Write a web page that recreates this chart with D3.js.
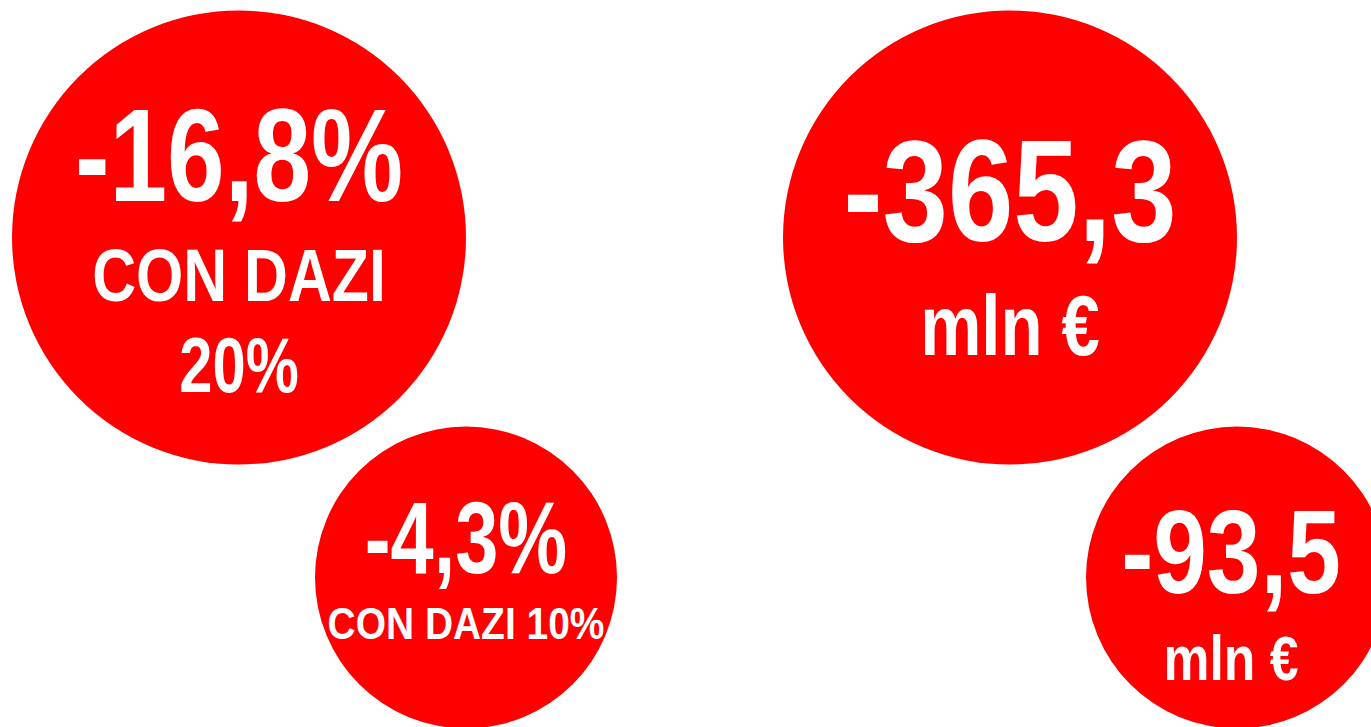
<!DOCTYPE html>
<html>
<head>
<meta charset="utf-8">
<script src="https://cdn.jsdelivr.net/npm/d3@7"></script>
<style>
  html, body { margin: 0; padding: 0; background: #fff; }
  svg { display: block; }
</style>
</head>
<body>
<div id="chart"></div>
<script>
// values shown in the bubbles
var values = ["-16,8%", "-4,3%", "-365,3", "-93,5"];
var subLabels = [["CON DAZI", "20%"], ["CON DAZI 10%"], ["mln €"], ["mln €"]];

// layout of each bubble (column, row, size) and its text lines
// fs = font size, y = baseline, sx = horizontal squeeze (narrow bold look)
var layout = [
    { col: 0, row: 0, size: "big",   main: { fs: 131, y: 201, sx: 0.79 }, subs: [{ fs: 75, y: 301, sx: 0.81 }, { fs: 77, y: 392, sx: 0.775 }], dx: 0 },
    { col: 1, row: 1, size: "small", main: { fs: 102, y: 573, sx: 0.76 }, subs: [{ fs: 45, y: 639, sx: 0.865 }], dx: 0 },
    { col: 2, row: 0, size: "big",   main: { fs: 145, y: 241, sx: 0.81 }, subs: [{ fs: 86, y: 355, sx: 0.80 }], dx: 0 },
    { col: 3, row: 1, size: "small", main: { fs: 119, y: 593, sx: 0.81 }, subs: [{ fs: 63, y: 680, sx: 0.82 }], dx: -6 }
];

var width = 1371, height = 727;

var svg = d3.select("#chart")
    .append("svg")
    .attr("width", width)
    .attr("height", height);

// x centres of the four columns, y centres of the two rows
var x = d3.scaleOrdinal().domain([0, 1, 2, 3]).range([239, 466, 1010, 1237]);
var y = d3.scaleOrdinal().domain([0, 1]).range([237.5, 577.5]);
var r = d3.scaleOrdinal().domain(["big", "small"]).range([227, 151]);

var red = "#ff0000";
var font = "'Liberation Sans', Arial, sans-serif";

var g = svg.selectAll("g.bubble")
    .data(values)
    .enter()
    .append("g")
    .attr("class", "bubble");

g.append("circle")
    .attr("cx", function (d, i) { return x(layout[i].col) })
    .attr("cy", function (d, i) { return y(layout[i].row) })
    .attr("r", function (d, i) { return r(layout[i].size) })
    .style("fill", red);

g.append("text")
    .attr("transform", function (d, i) {
        var m = layout[i].main;
        return "translate(" + (x(layout[i].col) + layout[i].dx) + "," + m.y + ") scale(" + m.sx + ",1)";
    })
    .style("text-anchor", "middle")
    .style("font-family", font)
    .style("font-weight", "bold")
    .style("font-size", function (d, i) { return layout[i].main.fs + "px" })
    .style("fill", "#fff")
    .text(function (d) { return d });

g.each(function (d, i) {
    var lay = layout[i];
    d3.select(this).selectAll("text.sub")
        .data(subLabels[i])
        .enter()
        .append("text")
        .attr("class", "sub")
        .attr("transform", function (s, j) {
            return "translate(" + (x(lay.col) + lay.dx) + "," + lay.subs[j].y + ") scale(" + lay.subs[j].sx + ",1)";
        })
        .style("text-anchor", "middle")
        .style("font-family", font)
        .style("font-weight", "bold")
        .style("font-size", function (s, j) { return lay.subs[j].fs + "px" })
        .style("fill", "#fff")
        .text(function (s) { return s });
});
</script>
</body>
</html>
